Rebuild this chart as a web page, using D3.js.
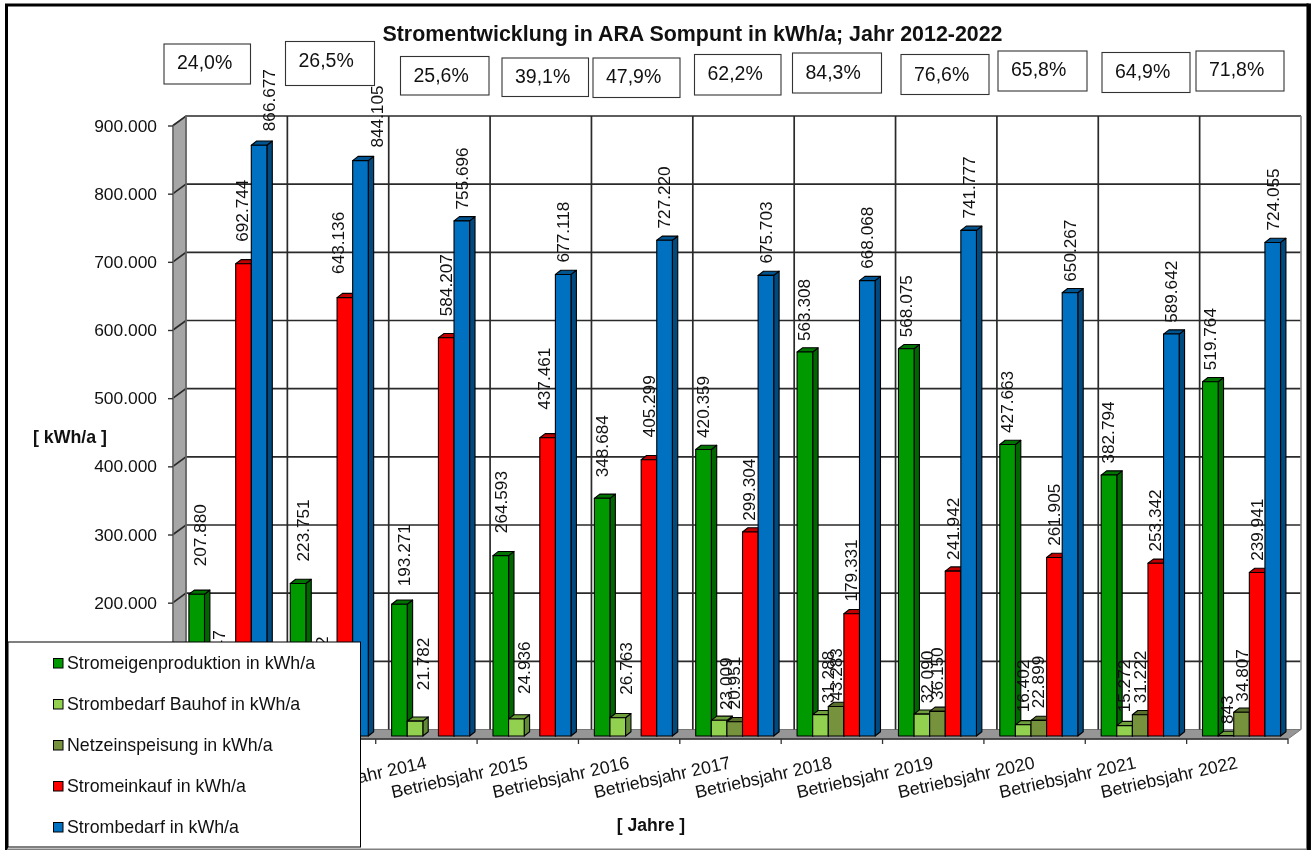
<!DOCTYPE html>
<html><head><meta charset="utf-8">
<style>
html,body{margin:0;padding:0;background:#fff}
svg{display:block;filter:blur(0.35px)}
text{font-family:"Liberation Sans",Arial,sans-serif;fill:#111}
</style>
<script src="https://cdnjs.cloudflare.com/ajax/libs/d3/7.8.5/d3.min.js"></script>
</head><body><svg id="c" width="1312" height="850"></svg>
<script>
const years = ["Betriebsjahr 2012","Betriebsjahr 2013","Betriebsjahr 2014","Betriebsjahr 2015","Betriebsjahr 2016","Betriebsjahr 2017","Betriebsjahr 2018","Betriebsjahr 2019","Betriebsjahr 2020","Betriebsjahr 2021","Betriebsjahr 2022"];
const seriesNames = ["Stromeigenproduktion in kWh/a","Strombedarf Bauhof in kWh/a","Netzeinspeisung in kWh/a","Stromeinkauf in kWh/a","Strombedarf in kWh/a"];
const eigenproduktion = [207880,223751,193271,264593,348684,420359,563308,568075,427663,382794,519764];
const bauhof = [33947,22782,21782,24936,26763,23009,31288,32090,16402,15272,843];
const netz = [null,null,null,null,null,20951,43283,36150,22899,31222,34807];
const einkauf = [692744,643136,584207,437461,405299,299304,179331,241942,261905,253342,239941];
const bedarf = [866677,844105,755696,677118,727220,675703,668068,741777,650267,589642,724055];
const ratios = [24.0,26.5,25.6,39.1,47.9,62.2,84.3,76.6,65.8,64.9,71.8];
const yTicks = [0,100000,200000,300000,400000,500000,600000,700000,800000,900000];

// Hand-placed value labels of the original: offset from each bar's top centre
const nudgeEigen = [[3,-28],[5,-22],[4.5,-18],[0,-22.5],[-.5,-21],[-1,-11.5],[-1,-11],[-.5,-11.5],[-.5,-11.5],[-1,-11.5],[-.5,-11.5]];
const nudgeBauhof = [[6.7,-30],[7.8,-31.5],[7.6,-31],[7.5,-25],[8.1,-23],[6.3,-10.3],[7.8,-11.4],[5.3,-10.8],[-.5,-12.5],[-.9,-13.3],[.5,-11.4]];
const nudgeNetz = [[0,0],[0,0],[0,0],[0,0],[0,0],[-1.2,-12.4],[-.3,-5.8],[-.2,-11.4],[-.7,-12.1],[-.5,-11.4],[-.2,-10.6]];
const nudgeEinkauf = [[-1.8,-22],[-6.6,-23.7],[-.6,-21.5],[-3.7,-28],[-.1,-22.3],[-1.2,-11.2],[-.9,-12.2],[-.6,-11.2],[-1,-11.6],[-.8,-11.8],[-.8,-11.6]];
const nudgeBedarf = [[9.6,-14],[16.5,-13],[-.2,-11.4],[-.5,-12],[-.4,-11.8],[-.1,-11.8],[-.5,-11.8],[-.2,-11.8],[-.6,-11],[-.7,-11.2],[-.4,-11.9]];
// Free-floating ratio boxes of the original: [x, y, w, h, baseline]
const boxLayout = [[164,44,86.5,40,69],[285.5,41.5,89,44,67],[400.5,56.5,88.5,38.5,82],[502,58,86.5,38.5,83],[593,58,87,39.5,83],[694.5,54.5,86.5,40.5,80],[792.5,53,89,40,79],[901,54.5,88,40,81],[998,51,89,40,76],[1102,52.5,88,40,78],[1196,51,88,40,76]];

const seriesValues = [eigenproduktion,bauhof,netz,einkauf,bedarf];
const nudges = [nudgeEigen,nudgeBauhof,nudgeNetz,nudgeEinkauf,nudgeBedarf];
const fronts = ["#009900","#92d050","#76923c","#ff0000","#0070c0"];
const tops = ["#007300","#6f9e3d","#59702d","#c00000","#005490"];
const sides = ["#006600","#618a36","#4e6328","#a00000","#004a80"];

const loc = d3.formatLocale({decimal:",",thousands:".",grouping:[3],currency:["",""]});
const fmt = loc.format(",d"), pct = loc.format(".1f");

const svg = d3.select("#c");
const depth = {x:13,y:-9.5}, barDepth = {x:5.4,y:-4.2}, barLift = -3;
const x = d3.scaleBand().domain(years).range([173,1288]);
const inner = d3.scaleBand().domain(d3.range(5)).range([15.9,93.9]);
const y = d3.scaleLinear().domain([0,900000]).range([739,125.5]);
const gridColor = "#2a2a2a";

// walls
const X0=x.range()[0], X1=x.range()[1], Y0=y(0), Y9=y(900000);
svg.append("polygon").attr("points",[[X0,Y9],[X0+depth.x,Y9+depth.y],[X0+depth.x,Y0+depth.y],[X0,Y0]].join(" ")).attr("fill","#a6a6a6").attr("stroke","#777").attr("stroke-width",1);
svg.append("polygon").attr("points",[[X0,Y0],[X0+depth.x,Y0+depth.y],[X1+depth.x,Y0+depth.y],[X1,Y0]].join(" ")).attr("fill","#969696").attr("stroke","#777").attr("stroke-width",1);

// gridlines on the back wall + wall diagonals
const grid = svg.append("g").attr("fill","none").attr("stroke",gridColor).attr("stroke-width",1.7);
yTicks.filter(d=>d>0).forEach(t=>{
  grid.append("path").attr("d",d3.line()([[X0,y(t)],[X0+depth.x,y(t)+depth.y],[X1+depth.x,y(t)+depth.y]]));
});
years.forEach((c,i)=>{
  const bx = x(c)+x.bandwidth()+depth.x;
  grid.append("line").attr("x1",bx).attr("x2",bx).attr("y1",Y9+depth.y).attr("y2",Y0+depth.y).attr("stroke",i===years.length-1?"#888":gridColor);
});
grid.append("line").attr("x1",X0+depth.x).attr("x2",X0+depth.x).attr("y1",Y9+depth.y).attr("y2",Y0+depth.y).attr("stroke","#666");

// axes
const yAxis = d3.axisLeft(y).tickValues(yTicks).tickFormat(fmt).tickSize(5).tickPadding(11);
const gy = svg.append("g").attr("transform",`translate(${X0},0)`).call(yAxis);
gy.selectAll("text").attr("font-size",17.4).attr("fill","#111").attr("font-family",'"Liberation Sans",Arial,sans-serif');
gy.selectAll("line").attr("stroke","#333").attr("stroke-width",1.4);
gy.select(".domain").attr("stroke","#666").attr("stroke-width",1.5).attr("d",`M${0},${Y9}V${Y0}`);

const xAxis = d3.axisBottom(x).tickSize(0).tickPadding(0);
const gx = svg.append("g").attr("transform",`translate(0,${Y0})`).call(xAxis);
gx.select(".domain").attr("stroke","#333").attr("stroke-width",1.5).attr("d",`M${X0},0H${X1}`);
gx.selectAll(".tick text").remove();
gx.selectAll(".tickmark").data(years).enter().append("line").attr("class","tickmark")
  .attr("x1",d=>x(d)+x.bandwidth()).attr("x2",d=>x(d)+x.bandwidth()).attr("y1",0).attr("y2",5).attr("stroke","#333").attr("stroke-width",1.3);
svg.append("g").selectAll("text").data(years).enter().append("text")
  .attr("text-anchor","end").attr("font-size",17.8)
  .attr("transform",d=>`translate(${x(d)+x.bandwidth()/2+1},${Y0+29}) rotate(-12.5)`)
  .text(d=>d);

// bars
const bars = svg.append("g");
years.forEach((yr,g)=>{
  seriesValues.forEach((vals,s)=>{
    const v = vals[g];
    if(v==null) return;
    const bx = x(yr)+inner(s), bw = inner.bandwidth(), ty = y(v)+barLift, by = y(0)+barLift;
    const gb = bars.append("g").attr("stroke","#000").attr("stroke-width",1.1).attr("stroke-linejoin","round");
    gb.append("polygon").attr("fill",sides[s]).attr("points",[[bx+bw,ty],[bx+bw+barDepth.x,ty+barDepth.y],[bx+bw+barDepth.x,by+barDepth.y],[bx+bw,by]].join(" "));
    gb.append("polygon").attr("fill",tops[s]).attr("points",[[bx,ty],[bx+barDepth.x,ty+barDepth.y],[bx+bw+barDepth.x,ty+barDepth.y],[bx+bw,ty]].join(" "));
    gb.append("rect").attr("fill",fronts[s]).attr("x",bx).attr("y",ty).attr("width",bw).attr("height",by-ty);
  });
});

// value labels
const labels = svg.append("g");
years.forEach((yr,g)=>{
  seriesValues.forEach((vals,s)=>{
    const v = vals[g];
    if(v==null) return;
    const cx = x(yr)+inner(s)+inner.bandwidth()/2+nudges[s][g][0];
    const by = y(v)+barLift+nudges[s][g][1];
    labels.append("text").attr("font-size",17.2).attr("text-anchor","start").attr("dy","0.36em")
      .attr("transform",`translate(${cx},${by}) rotate(-90)`).text(fmt(v));
  });
});

// title and axis titles
svg.append("text").attr("x",692.5).attr("y",41).attr("text-anchor","middle").attr("font-size",21.4).attr("font-weight","bold").attr("fill","#000").text("Stromentwicklung in ARA Sompunt in kWh/a; Jahr 2012-2022");
svg.append("text").attr("x",70).attr("y",443).attr("text-anchor","middle").attr("font-size",17.8).attr("font-weight","bold").text("[ kWh/a ]");
svg.append("text").attr("x",651).attr("y",831).attr("text-anchor","middle").attr("font-size",17.6).attr("font-weight","bold").text("[ Jahre ]");

// ratio boxes
const boxes = svg.append("g");
ratios.forEach((r,i)=>{
  const b = boxLayout[i];
  boxes.append("rect").attr("x",b[0]).attr("y",b[1]).attr("width",b[2]).attr("height",b[3]).attr("fill","#fff").attr("stroke","#333").attr("stroke-width",1.1);
  boxes.append("text").attr("x",b[0]+13).attr("y",b[4]).attr("font-size",19.5).text(pct(r)+"%");
});

// legend
const leg = svg.append("g");
leg.append("rect").attr("x",8).attr("y",642).attr("width",352.5).attr("height",205).attr("fill","#fff").attr("stroke","#000").attr("stroke-width",1);
const legY = d3.scalePoint().domain(seriesNames).range([663,827]);
seriesNames.forEach((n,i)=>{
  leg.append("rect").attr("x",53.5).attr("y",legY(n)-4.5).attr("width",9.5).attr("height",9.5).attr("fill",fronts[i]).attr("stroke","#000").attr("stroke-width",1);
  leg.append("text").attr("x",67).attr("y",legY(n)+6).attr("font-size",17.8).text(n);
});

// outer frame
const frame = svg.append("g").attr("fill","none");
frame.append("path").attr("d","M6.5,850V5H1308.7").attr("stroke","#000").attr("stroke-width",3);
frame.append("path").attr("d","M1308.7,3.5V850").attr("stroke","#000").attr("stroke-width",4.5);
frame.append("path").attr("d","M7,849.2H1306").attr("stroke","#808080").attr("stroke-width",1.5);
</script></body></html>
